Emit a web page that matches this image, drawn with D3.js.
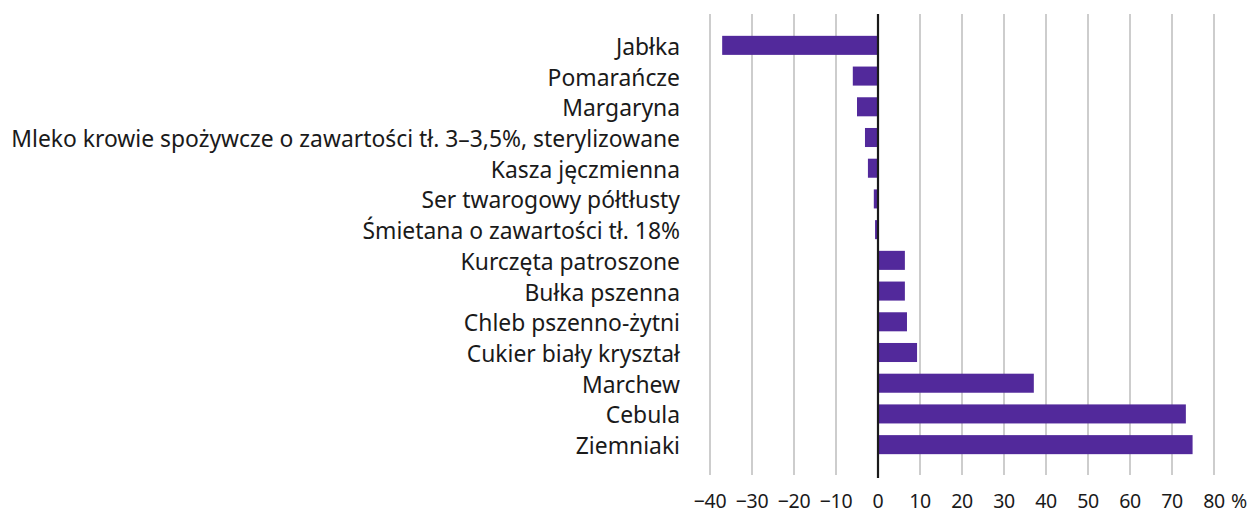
<!DOCTYPE html>
<html>
<head>
<meta charset="utf-8">
<script src="https://cdn.jsdelivr.net/npm/d3@7"></script>
<style>
  body { margin: 0; background: #fff; }
  svg { display: block; font-family: "Noto Sans", sans-serif; }
</style>
</head>
<body>
<script>
'use strict'

const categories = [
	'Jabłka',
	'Pomarańcze',
	'Margaryna',
	'Mleko krowie spożywcze o zawartości tł. 3–3,5%, sterylizowane',
	'Kasza jęczmienna',
	'Ser twarogowy półtłusty',
	'Śmietana o zawartości tł. 18%',
	'Kurczęta patroszone',
	'Bułka pszenna',
	'Chleb pszenno-żytni',
	'Cukier biały kryształ',
	'Marchew',
	'Cebula',
	'Ziemniaki'
];
const values = [-37.1, -6.0, -5.0, -3.1, -2.4, -1.0, -0.7, 6.4, 6.4, 6.9, 9.3, 37.1, 73.3, 74.9];
const ticks = [-40, -30, -20, -10, 0, 10, 20, 30, 40, 50, 60, 70, 80];

;(() => {
	const W = 1254, H = 514;
	const opts = { left: 710, right: 1214, top: 30, bottom: 460, gridTop: 14, gridBottom: 470 };

	const svg = d3.select('body').append('svg')
		.attr('width', W)
		.attr('height', H);

	const x = d3.scaleLinear().domain([-40, 80]).range([opts.left, opts.right]);
	const y = d3.scaleBand().domain(categories).range([opts.top, opts.bottom]).paddingInner(0.38).paddingOuter(0.19);

	// gridlines
	svg.append('g').selectAll('line')
		.data(ticks.filter(t => t !== 0))
		.enter().append('line')
		.attr('x1', d => x(d)).attr('x2', d => x(d))
		.attr('y1', opts.gridTop).attr('y2', opts.gridBottom + 5)
		.attr('stroke', '#bdbdbd')
		.attr('stroke-width', 1.5);

	// bars
	svg.append('g').selectAll('rect')
		.data(values)
		.enter().append('rect')
		.attr('x', d => x(Math.min(0, d)))
		.attr('width', d => Math.abs(x(d) - x(0)))
		.attr('y', (d, i) => y(categories[i]))
		.attr('height', y.bandwidth())
		.attr('fill', '#52299b');

	// zero line
	svg.append('line')
		.attr('x1', x(0)).attr('x2', x(0))
		.attr('y1', opts.gridTop).attr('y2', opts.gridBottom + 8)
		.attr('stroke', '#1a1a1a')
		.attr('stroke-width', 2.2);

	// category labels - sized so the longest one spans x 10..680
	const labels = svg.append('g').selectAll('text')
		.data(categories)
		.enter().append('text')
		.attr('x', 680)
		.attr('text-anchor', 'end')
		.attr('font-size', 22)
		.attr('fill', '#1a1a1a')
		.text(d => d);
	const longest = d3.max(labels.nodes(), n => n.getComputedTextLength());
	const fs = 22 * 669 / longest;
	labels.attr('font-size', fs)
		.attr('y', d => y(d) + y.bandwidth() / 2 + 1.5)
		.attr('dy', '0.35em');

	// tick labels
	svg.append('g').selectAll('text')
		.data(ticks)
		.enter().append('text')
		.attr('x', d => x(d))
		.attr('y', 501)
		.attr('dy', '0.35em')
		.attr('text-anchor', 'middle')
		.attr('font-size', 19.5)
		.attr('letter-spacing', -0.3)
		.attr('fill', '#1a1a1a')
		.text(d => d < 0 ? '−' + Math.abs(d) : d);

	svg.append('text')
		.attr('x', 1231)
		.attr('y', 501)
		.attr('dy', '0.35em')
		.attr('font-size', 19.5)
		.attr('fill', '#1a1a1a')
		.text('%');
})();
</script>
</body>
</html>
